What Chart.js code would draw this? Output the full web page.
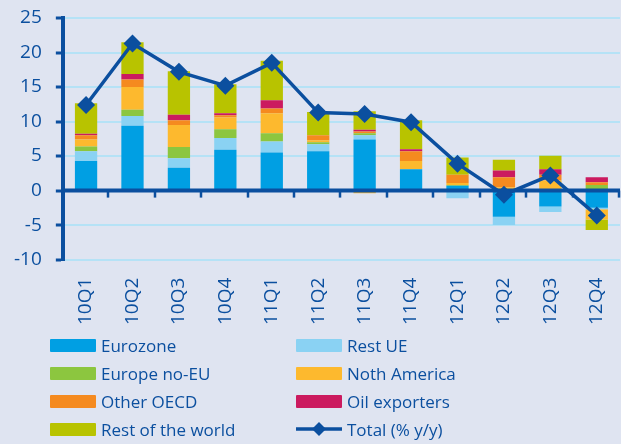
<!DOCTYPE html>
<html>
<head>
<meta charset="utf-8">
<script src="https://cdn.jsdelivr.net/npm/chart.js@4.4.0/dist/chart.umd.min.js"></script>
<style>
    html, body { margin: 0; padding: 0; background: #dfe4f1; }
    body { width: 621px; height: 444px; position: relative; overflow: hidden; font-family: 'Open Sans', sans-serif; }
    #chartBox { position: absolute; left: 0; top: 0; width: 621px; height: 343px; }
    #legend { position: absolute; left: 50px; top: 331px; display: grid; grid-template-columns: 246px 246px; }
    .item { display: flex; align-items: center; height: 28px; color: #0b4f9f; font-size: 17px; }
    .swatch { width: 46px; height: 13px; margin-right: 5px; border-radius: 1px; }
</style>
</head>
<body>
<div id="chartBox"><canvas id="exportsChart" width="621" height="343"></canvas></div>
<div id="legend"></div>
<script>
// Quarters on the x axis
const quarters = ['10Q1', '10Q2', '10Q3', '10Q4', '11Q1', '11Q2', '11Q3', '11Q4', '12Q1', '12Q2', '12Q3', '12Q4'];

// Contributions by destination (pp)
const eurozone     = [4.3, 9.4, 3.3, 5.9, 5.5, 5.7, 7.4, 3.1, 0.7, -3.8, -2.3, -2.5];
const restUE       = [1.4, 1.4, 1.4, 1.7, 1.6, 1.0, 0.6, 0.0, -1.1, -1.2, -0.8, -0.2];
const europeNoEU   = [0.7, 0.9, 1.6, 1.3, 1.2, 0.3, 0.3, 0.0, 0.1, 0.0, 0.0, 0.8];
const northAmerica = [1.0, 3.3, 3.2, 1.7, 2.9, 0.3, -0.4, 1.2, 0.3, 0.5, 1.45, -1.5];
const otherOECD    = [0.6, 1.1, 0.7, 0.3, 0.7, 0.7, 0.25, 1.4, 1.2, 1.45, 0.85, 0.4];
const oilExporters = [0.25, 0.8, 0.8, 0.3, 1.2, -0.2, 0.25, 0.3, 0.0, 0.95, 0.8, 0.75];
const restWorld    = [4.4, 4.6, 6.3, 4.2, 5.7, 3.4, 2.7, 4.2, 2.5, 1.55, 1.95, -1.5];

// Total (% y/y)
const total = [12.4, 21.3, 17.2, 15.2, 18.5, 11.3, 11.1, 9.9, 3.9, -0.6, 2.2, -3.6];

// Y axis
const yMin = -10;
const yMax = 25;
const yStep = 5;

const darkBlue = '#0b4f9f';
const gridBlue = '#b5e2f6';

const barSeries = [
    { label: 'Eurozone', data: eurozone, color: '#009fe3' },
    { label: 'Rest UE', data: restUE, color: '#8ad2f3' },
    { label: 'Europe no-EU', data: europeNoEU, color: '#8cc63f' },
    { label: 'Noth America', data: northAmerica, color: '#fdb92e' },
    { label: 'Other OECD', data: otherOECD, color: '#f58a1f' },
    { label: 'Oil exporters', data: oilExporters, color: '#cb1a5f' },
    { label: 'Rest of the world', data: restWorld, color: '#b8c300' }
];

const datasets = barSeries.map(s => ({
    type: 'bar',
    label: s.label,
    data: s.data,
    backgroundColor: s.color,
    borderWidth: 0,
    stack: 'regions',
    order: 1,
    categoryPercentage: 1,
    barPercentage: 0.48
}));

datasets.push({
    type: 'line',
    label: 'Total (% y/y)',
    data: total,
    borderColor: darkBlue,
    backgroundColor: darkBlue,
    borderWidth: 3.5,
    pointStyle: 'rectRot',
    pointRadius: 9,
    pointBorderWidth: 0,
    tension: 0,
    stack: 'total',
    clip: false,
    order: 0
});

// Zero line and quarter separators, drawn over the bars but under the line
const zeroAxis = {
    id: 'zeroAxis',
    beforeDatasetDraw(chart, args) {
        if (args.meta.type !== 'line') return;
        const ctx = chart.ctx;
        const y0 = chart.scales.y.getPixelForValue(0);
        const area = chart.chartArea;
        ctx.save();
        ctx.strokeStyle = darkBlue;
        ctx.lineWidth = 4;
        ctx.beginPath();
        ctx.moveTo(area.left, y0);
        ctx.lineTo(area.right, y0);
        ctx.stroke();
        ctx.lineWidth = 2.5;
        const step = (area.right - area.left) / quarters.length;
        for (let i = 1; i <= quarters.length; i++) {
            const px = Math.round(area.left + step * i) - 1;
            ctx.beginPath();
            ctx.moveTo(px, y0);
            ctx.lineTo(px, y0 + 7);
            ctx.stroke();
        }
        ctx.restore();
    }
};

new Chart(document.getElementById('exportsChart'), {
    data: { labels: quarters, datasets: datasets },
    options: {
        responsive: false,
        animation: false,
        layout: { autoPadding: false, padding: { top: 18, right: 1, left: 0, bottom: 0 } },
        plugins: {
            legend: { display: false },
            tooltip: { enabled: false }
        },
        scales: {
            x: {
                stacked: true,
                afterFit(scale) { scale.paddingLeft = 0; scale.paddingRight = 0; },
                grid: { display: false, drawTicks: false },
                border: { display: false },
                ticks: {
                    autoSkip: false,
                    minRotation: 90,
                    maxRotation: 90,
                    padding: 18,
                    color: darkBlue,
                    font: { family: 'Open Sans', size: 19 }
                }
            },
            y: {
                stacked: true,
                min: yMin,
                max: yMax,
                afterFit(scale) { scale.paddingTop = 0; scale.paddingBottom = 0; },
                grid: {
                    color: gridBlue,
                    lineWidth: 2,
                    tickColor: darkBlue,
                    tickLength: 7,
                    tickWidth: 3
                },
                border: { color: darkBlue, width: 4 },
                ticks: {
                    stepSize: yStep,
                    padding: 14,
                    color: darkBlue,
                    font: { family: 'Open Sans', size: 19 }
                }
            }
        }
    },
    plugins: [zeroAxis]
});

// Two-column legend
const legend = document.getElementById('legend');
datasets.forEach(ds => {
    const item = document.createElement('div');
    item.className = 'item';
    if (ds.type === 'bar') {
        item.innerHTML = '<div class="swatch" style="background:' + ds.backgroundColor + '"></div>';
    } else {
        item.innerHTML = '<svg width="46" height="16" style="margin-right:5px">' +
            '<line x1="0" y1="8" x2="46" y2="8" stroke="' + darkBlue + '" stroke-width="3.5"/>' +
            '<polygon points="23,1 30,8 23,15 16,8" fill="' + darkBlue + '"/></svg>';
    }
    const text = document.createElement('span');
    text.textContent = ds.label;
    item.appendChild(text);
    legend.appendChild(item);
});
</script>
</body>
</html>
